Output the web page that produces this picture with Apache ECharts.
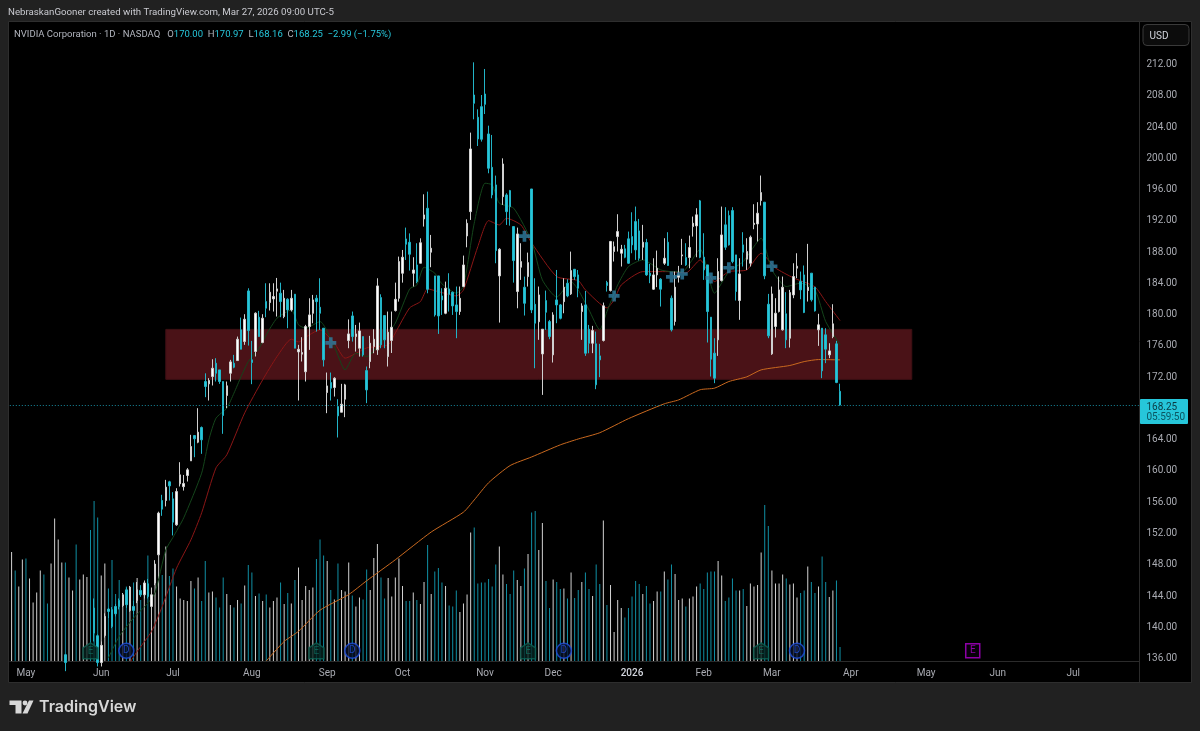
<!DOCTYPE html>
<html>
<head>
<meta charset="utf-8">
<title>NVDA</title>
<style>
  html, body { margin: 0; padding: 0; background: #212121; }
  #j-echarts { width: 1200px; height: 731px; }
</style>
<script src="https://cdn.jsdelivr.net/npm/echarts@6/dist/echarts.min.js"></script>
</head>
<body>
<div id="j-echarts"></div>
<script>
'use strict';
// daily bars, first one is 2025-04-25 (bars under 135.5 are off screen, estimated)
var opens = [
  106.9,110.3,107.7,104.5,113.1,112.9,112.9,111.9,113.0,118.2,
  117.3,121.9,124.7,133.2,134.3,136.3,132.4,134.3,133.1,132.2,
  130,134.1,135.2,142.27,138.73,135.3,138.77,142.14,142.06,142.48,
  143.25,142.61,144.6,141.97,142.48,143.25,144.53,143.97,145.38,142.48,
  145.47,149.09,156.03,156.03,158.42,156.24,152.92,158.16,157.8,159.23,
  161.1,164.34,163.49,165.37,171.25,170.95,171.89,173.59,172.74,171.25,
  169.46,172.31,173.59,173.93,177.86,176.36,182.84,174.02,175.09,179.48,
  176.24,181.48,181.35,181.82,182.8,182.55,179.56,181.78,180.41,182.42,
  175.04,174.75,172.5,178.28,179.98,181.9,180.75,178.07,169.84,171.12,
  170.48,168.05,167.32,168.99,176.49,179.64,177,175.51,177,172.65,
  173.8,175.72,175.3,181.99,179.69,174.44,176.5,180.33,181.9,185.1,
  189.49,189.06,185.1,186.16,186.38,192.05,193.41,187.79,184.76,184.76,
  182.2,179.98,183.1,182.67,181.05,180.2,183.4,189.87,192.98,207.9,
  205.05,206.41,208.03,202.92,198.65,196.4,184.76,194.9,195.12,195.67,
  191.07,182.76,185.87,183.31,184.67,195.88,181.13,178.9,174.78,181.6,
  178.92,174.66,181.69,181.05,181.47,183.82,182.46,185.61,184.89,180.2,
  181.05,177.94,176.15,176.07,174.53,176.5,183.91,182.89,187.88,189.79,
  187.66,188.22,189.5,189.79,191.71,190.52,188.43,189.03,185.11,183.06,
  184.89,184.34,186.38,189.07,181.91,178.93,184.59,187.32,187.11,187.11,
  191.07,191.16,194.36,187.15,186.17,179.48,174.88,176.58,184.17,191.29,
  192.48,193.12,187.45,181.61,188.73,186.9,186.38,191.33,191.41,194.4,
  194.19,181.14,174.79,178.29,180.2,177.86,179.91,176.79,182.33,185.75,
  184.04,184.89,182.89,185.11,183.32,177.86,178.07,177.22,174.66,177,
  176.07,170
];
var closes = [
  111,108.7,109,108.9,111.6,114.5,113.8,113.5,117.1,117.4,
  116.7,123,129.9,135.3,134.8,135.3,135.4,134.4,131.8,132.8,
  131.3,135.4,134.8,139.07,135.3,137.5,141.2,141.84,139.92,141.54,
  142.48,143.97,142.7,144.95,141.97,144.6,143.97,145.47,143.76,143.97,
  147.9,154.42,154.92,157.74,157.9,153.26,157.18,159.31,158.2,159.95,
  162.94,163.92,164.77,163.79,170.61,171.38,172.95,172.31,171.25,166.9,
  170.7,173.76,173.08,176.66,175.38,179.22,177.77,173.68,179.99,177,
  179.35,180.63,182.67,182.12,183.1,181.48,181.9,180.41,181.9,175.51,
  175.38,174.96,178.28,179.77,181.69,181.47,179.98,174.02,170.69,170.4,
  171.67,166.86,168.35,170.82,177.34,177,177.34,177.72,174.66,170.18,
  176.15,176.66,183.48,175.94,176.58,177.55,178.19,181.77,186.59,187.15,
  188.81,187.53,185.52,184.03,189,192.56,183.05,188.3,179.77,179.64,
  181.69,183.18,182.41,180.92,180.2,181.9,186.16,191.49,201,206.84,
  202.28,202.24,206.71,198.53,195.12,188,188.17,199.08,192.98,193.62,
  186.72,190.13,186.59,181.26,186.46,180.41,178.71,182.33,177.94,180.11,
  177,179.77,181.05,179.34,183.31,182.2,185.44,184.67,183.18,180.92,
  174.87,176.15,177.77,170.83,174.02,180.93,183.53,189.16,188.5,190.43,
  188.17,187.15,186.38,188.73,188.09,187.02,189.07,184.89,184.77,184.89,
  185.74,183.06,187.02,186.09,177.86,183.32,184.89,187.45,186.17,188.39,
  191.5,192.57,187.15,185.53,180.2,174.11,171.68,185.32,190,188.43,
  188.73,186.6,182.76,185.02,187.79,187.88,189.71,191.5,192.78,195.42,
  184.77,177.09,182.46,179.99,182.97,183.32,176.58,182.63,184.68,186,
  182.97,180.08,183.32,181.7,180.29,178.5,172.62,175.39,175.17,178.63,
  171.13,168.25
];
var lows = [
  106.5,107,107,104,111,112.5,112.4,111.4,112.5,115.8,
  116,120.3,124,132.4,132,134.2,132,132.8,130.6,131.5,
  130,133,133.5,138,134.8,134.8,138.5,141,139.7,141.2,
  142.1,142.4,142.3,141.8,141.5,142.9,143.7,143.5,143.5,142,
  145.2,149,154.07,155.27,156.03,151.56,152.8,157.82,157.3,158.46,
  161.1,161.57,163.36,162,169.25,168.82,170.74,171.25,170.95,164.56,
  167.84,171.25,172.95,173.93,175.38,175.94,175.85,170.91,174.45,177,
  176.15,179.48,180.33,180.2,179.56,179.48,179.35,178.07,180.2,175.51,
  168.82,173.81,171.25,175.3,178.7,177.64,177.85,173.17,167.2,168.82,
  169.33,164.09,167.32,166.69,175.51,176.36,175.08,174.44,174.44,168.48,
  172.95,174.87,174.66,175.51,175.51,173.17,174.9,180.2,181.47,183.9,
  186.8,185.44,183.4,183.82,186.38,191.07,182.54,185.87,179.56,177.34,
  179.77,179.86,180.2,179.77,176.79,179.77,183.31,188.42,191.92,204.79,
  201.38,201.94,205.47,197.89,194.69,186.38,178.79,193.84,191.28,191.19,
  183.9,180.62,184.25,179.69,183.4,180,172.95,176.58,169.54,177.85,
  176.66,173.68,178.71,179.2,179.98,182.03,182.33,184.25,182.03,176.58,
  174.53,174.87,174.88,170.27,171.81,176.37,182.76,182.76,186.6,187.88,
  185.96,187.02,186.3,187.66,186.81,186.73,186.81,184.77,183.83,182.97,
  183.32,180.84,186.17,186.04,177.65,178.41,183.91,186.17,186.04,185.74,
  189.79,187.15,187.02,184.25,176.24,171.89,171.04,174.53,184.04,188.09,
  188.64,186.38,181.61,179.14,185.96,185.53,185.96,190.73,189.16,193.76,
  184.34,176.79,174.66,176.88,180.08,177.77,175.52,175.6,181.91,184.47,
  181.78,180,181.48,181.48,180.2,175.81,171.68,173.6,174.24,176.79,
  171.04,168.16
];
var highs = [
  111.9,110.4,110.2,109,114.9,115.4,114.7,114.7,117.6,118.7,
  118.2,123.1,131.2,135.4,135.4,136.4,135.45,135.4,134,134.2,
  132.7,135.45,135.4,143.5,138.9,138,141.6,142.3,142.4,142.8,
  143.5,144.2,144.9,145.1,143.2,145.6,145.2,145.8,146,144.9,
  148.4,154.6,156.76,158.67,158.55,157.1,157.6,160.93,159.3,160.17,
  164.43,164.34,167.84,165.5,172.3,171.68,174.1,174.23,172.74,171.25,
  171.25,174.02,174.66,177,179.43,179.86,183.18,176.45,180.1,180.29,
  179.86,183.82,183.82,183.82,184.5,183.9,182.97,181.9,182.97,182.42,
  175.94,176.92,178.5,181.9,182.33,182.33,184.46,178.07,172.4,172.4,
  171.8,168.99,170.95,170.95,179.2,180.2,178.49,178.79,177,173.17,
  177.09,177.94,184.46,182.41,179.69,180.2,180.2,183.9,187.23,188.08,
  190.94,190.2,187.15,188.94,189.57,195.2,195.54,190,184.76,184.76,
  183.18,184.03,185.1,182.76,183.4,183.4,187.36,192,203.09,212.08,
  206.07,207.9,211.23,203.98,202.79,197.59,188.3,199.8,195.33,195.76,
  191.07,190.94,188.94,184.67,187.74,195.88,184.46,183.4,177.94,182.88,
  179.13,180.11,185.52,181.17,184.46,184.33,187.87,185.61,185.52,181.26,
  182.84,178.49,178.37,177.64,176.07,181.35,184.13,189.24,189.16,192.65,
  188.73,188.73,190.43,192.9,193.63,192.05,191.29,189.5,186.3,187.02,
  188,184.47,189.58,190.35,182.25,185.32,186.04,189.5,188.94,189.92,
  192.35,193.42,194.48,190.22,186.17,179.48,176.79,187.02,193.63,193.55,
  193.12,193.55,187.45,187.02,190.35,189.58,189.92,193.93,194.19,197.6,
  194.19,182.46,183.4,181.91,184.68,184.68,182.68,182.97,186.38,187.66,
  185.32,186.09,188.86,185.11,183.32,179.91,178.07,178.07,176.15,181.14,
  176.45,170.97
];
// volume in millions of shares
var volumes = [
  218,181,149,203,205,165,117,137,181,173,
  115,195,285,243,197,197,167,141,233,163,
  173,168,262,320,287,171,195,145,202,134,
  162,129,149,147,157,166,122,158,211,145,
  194,212,172,229,170,185,149,125,122,120,
  160,145,167,120,200,137,139,127,107,167,
  134,112,107,122,115,151,192,177,130,135,
  120,133,107,120,127,157,114,136,115,162,
  187,122,150,142,147,204,243,211,200,142,
  123,195,142,139,197,131,109,127,123,183,
  142,206,234,167,125,166,129,167,205,150,
  120,120,137,122,114,158,232,134,179,186,
  157,150,111,109,141,98,115,133,257,267,
  155,157,157,164,149,193,229,173,154,134,
  181,162,150,185,214,297,300,222,276,160,
  106,163,158,144,145,125,177,126,142,158,
  177,144,130,193,154,281,112,152,58,122,
  106,87,106,129,160,154,134,150,115,120,
  139,139,179,163,193,174,122,125,109,125,
  129,149,155,144,177,179,179,200,171,120,
  127,165,141,141,144,110,155,149,152,217,
  312,270,181,155,155,173,165,153,155,127,
  136,141,189,158,136,149,209,158,128,141,
  161,28
];
// moving averages, [bar index, value] at the turning points of each line
var ma200Points = [[71,135.5],[76,138],[80,139.3],[86,142],[94,144],[99,145.76],[107,148.45],[117,152],[126,154.54],[129,156.1],[133,158.3],[139,160.5],[145,161.6],[153,163.15],[158,163.9],[164,164.7],[172,166.5],[182,168.4],[186,168.9],[192,170.2],[196,170.4],[200,171.25],[205,171.85],[209,172.74],[217,173.3],[221,173.8],[225,174.06],[231,174.02]];
var ma21Points = [[33,135.3],[35,136.72],[39,139.27],[42,142.47],[46,147.38],[50,151],[53,154.46],[57,160.21],[60,161.87],[65,167.24],[70,171.46],[74,174.44],[78,176.67],[80,176.32],[83,177.22],[86,177.86],[90,176.19],[93,174.24],[99,175.55],[105,175.94],[107,177.47],[111,180.67],[114,181.48],[116,183.1],[119,182.75],[124,182.2],[126,182.97],[130,188.51],[133,191.83],[136,191.28],[138,192.14],[142,191.28],[145,188.98],[152,184.67],[158,184.16],[160,182.97],[166,180.67],[168,181.69],[170,183.6],[176,185.31],[183,185.31],[188,185.14],[192,186.81],[196,184.03],[200,185.31],[205,185.53],[209,187.66],[213,185.78],[218,184.51],[224,183.36],[227,181.48],[231,179.05]];
var ma9Points = [[27,135.9],[30,138.64],[34,140.99],[38,142.9],[40,144.23],[43,149.72],[45,151.32],[48,153.82],[53,159.53],[55,163.79],[57,166.57],[60,167.84],[62,169.76],[64,171.89],[66,173.8],[69,175.52],[71,177.22],[74,179.35],[78,180.41],[80,178.5],[82,178.08],[86,178.92],[90,175.72],[93,172.74],[96,174.88],[99,174.44],[104,176.83],[107,178.72],[111,183.1],[113,183.61],[115,185.87],[118,185.11],[120,183.74],[124,182.55],[126,183.4],[129,191.5],[132,196.62],[134,196.4],[136,194.06],[140,193.42],[145,189.15],[148,184.25],[152,182.04],[156,184.03],[158,182.97],[161,180.41],[164,177.86],[166,180.2],[169,183.6],[172,185.95],[176,186.81],[181,185.53],[184,185.31],[187,185.31],[192,188.2],[196,182.55],[200,185.31],[204,186.59],[209,189.58],[212,185.53],[216,183.4],[220,183.83],[224,182.97],[227,178.92],[231,175.94]];
// blue crosses
var crossPoints = [[89,176.2],[143,189.84],[168,182.2],[184,184.63],[187,185],[195,184.5],[200,185.8],[212,186]];
// earnings and dividend flags
var earningsBars = [22,85,144,209];
var dividendBars = [32,95,154,219];
var nextEarningsBar = 268;
var flagPrice = 136.8;
// support zone
var zoneTop = 177.92;
var zoneBottom = 171.53;
var zoneFromBar = 43;
var zoneToBar = 251;
var lastPrice = 168.25;
var priceTicks = [136,140,144,148,152,156,160,164,168,172,176,180,184,188,192,196,200,204,208,212];
var monthBars = [4,25,45,67,88,109,132,151,173,193,212,234,255,275,296];
var monthLabels = ['May','Jun','Jul','Aug','Sep','Oct','Nov','Dec','2026','Feb','Mar','Apr','May','Jun','Jul'];
var marketHolidays = ['2025-05-26','2025-06-19','2025-07-04','2025-09-01','2025-11-27','2025-12-25','2026-01-01','2026-01-19','2026-02-16','2026-04-03','2026-05-25','2026-06-19','2026-07-03','2026-09-07'];
var barCount = 315;

var upColor = '#ffffff';
var downColor = '#26c6da';

// trading days, the axis runs on past the last bar
var categories = [];
var day = new Date(Date.UTC(2025, 3, 25));
while (categories.length < barCount) {
  var iso = day.toISOString().slice(0, 10);
  if (day.getUTCDay() !== 0 && day.getUTCDay() !== 6 && marketHolidays.indexOf(iso) < 0) {
    categories.push(iso);
  }
  day.setUTCDate(day.getUTCDate() + 1);
}

var candleData = opens.map(function (o, i) {
  return [o, closes[i], lows[i], highs[i]];
});
var volumeData = volumes.map(function (v, i) {
  return {
    value: v,
    itemStyle: { color: closes[i] >= opens[i] ? '#d2d2d2' : '#108fa4' }
  };
});
function flagData(bars) {
  return bars.map(function (b) { return [b, flagPrice]; });
}

var myChart = echarts.init(document.getElementById('j-echarts'));
var uiFont = 'Roboto, "Liberation Sans", sans-serif';

var option = {
  backgroundColor: '#212121',
  animation: false,
  grid: { left: 9.8, top: 22, width: 1129.7, height: 639 },
  xAxis: {
    type: 'category',
    data: categories,
    boundaryGap: true,
    axisLine: { lineStyle: { color: '#2b2b2b' } },
    axisTick: { show: false },
    splitLine: { show: false },
    axisLabel: {
      color: '#a9abb2',
      fontFamily: uiFont,
      fontSize: 10,
      margin: 7,
      interval: function (index) {
        return monthBars.indexOf(index) >= 0;
      },
      formatter: function (value, index) {
        var label = monthLabels[monthBars.indexOf(index)];
        return label === '2026' ? '{y|2026}' : label;
      },
      rich: { y: { color: '#d1d4dc', fontFamily: uiFont, fontSize: 10, fontWeight: 500 } }
    }
  },
  yAxis: [
    {
      type: 'value',
      position: 'right',
      min: 135.5,
      max: 217.24,
      axisLine: { show: true, lineStyle: { color: '#2b2b2b' } },
      axisTick: { show: false },
      splitLine: { show: false },
      axisLabel: {
        customValues: priceTicks,
        color: '#a9abb2',
        fontFamily: uiFont,
        fontSize: 10,
        margin: 7,
        lineHeight: 3,
        verticalAlign: 'top',
        formatter: function (v) { return v.toFixed(2); }
      }
    },
    {
      type: 'value',
      min: 0,
      max: 1278,
      show: false
    }
  ],
  series: [
    {
      name: 'Volume',
      type: 'bar',
      yAxisIndex: 1,
      barWidth: 1,
      z: 2,
      data: volumeData
    },
    {
      name: 'MA200',
      type: 'line',
      data: ma200Points,
      showSymbol: false,
      smooth: 0.2,
      z: 3,
      lineStyle: { color: '#c9691f', width: 1 },
      markArea: {
        silent: true,
        z: 1,
        itemStyle: { color: '#4a1217', borderColor: '#3f1014', borderWidth: 1 },
        data: [[
          { xAxis: categories[zoneFromBar], yAxis: zoneTop },
          { xAxis: categories[zoneToBar], yAxis: zoneBottom }
        ]]
      }
    },
    {
      name: 'MA21',
      type: 'line',
      data: ma21Points,
      showSymbol: false,
      smooth: 0.2,
      z: 3,
      lineStyle: { color: '#8a1616', width: 1 }
    },
    {
      name: 'MA9',
      type: 'line',
      data: ma9Points,
      showSymbol: false,
      smooth: 0.2,
      z: 3,
      lineStyle: { color: '#14451b', width: 1 }
    },
    {
      name: 'NVDA',
      type: 'candlestick',
      data: candleData,
      barWidth: 2,
      z: 4,
      itemStyle: {
        color: upColor,
        color0: downColor,
        borderColor: '#d0d0d0',
        borderColor0: '#22b4c7',
        borderWidth: 1
      },
      markLine: {
        silent: true,
        symbol: 'none',
        label: { show: false },
        lineStyle: { color: '#178ba0', type: [1, 2], width: 1 },
        data: [{ yAxis: lastPrice }]
      }
    },
    {
      name: 'Cross',
      type: 'scatter',
      data: crossPoints,
      symbol: 'path://M4 0h4v4h4v4h-4v4h-4v-4h-4v-4h4z',
      symbolSize: 11,
      z: 5,
      itemStyle: { color: '#2f7ea3' }
    },
    {
      name: 'Earnings',
      type: 'scatter',
      data: flagData(earningsBars),
      symbol: 'path://M0 5L7 0L14 5V16H0Z',
      symbolSize: [15, 16],
      z: 5,
      itemStyle: { color: '#06231f', borderColor: '#0d6153', borderWidth: 1.5 },
      label: { show: true, position: 'inside', formatter: 'E', color: '#0f6e5e', fontFamily: uiFont, fontSize: 10, offset: [0, 1] }
    },
    {
      name: 'Dividends',
      type: 'scatter',
      data: flagData(dividendBars),
      symbol: 'circle',
      symbolSize: 15,
      z: 5,
      itemStyle: { color: '#060f28', borderColor: '#2050e0', borderWidth: 1.5 },
      label: { show: true, position: 'inside', formatter: 'D', color: '#2350d8', fontFamily: uiFont, fontSize: 10 }
    },
    {
      name: 'Next earnings',
      type: 'scatter',
      data: flagData([nextEarningsBar]),
      symbol: 'rect',
      symbolSize: 14,
      z: 5,
      itemStyle: { color: '#0a000c', borderColor: '#b000d0', borderWidth: 1.5 },
      label: { show: true, position: 'inside', formatter: 'E', color: '#b000d0', fontFamily: uiFont, fontSize: 10 }
    }
  ],
  graphic: {
    elements: [
      {
        type: 'rect', z: -1, silent: true,
        shape: { x: 8.5, y: 21.5, width: 1183, height: 661 },
        style: { fill: '#000', stroke: '#2e2e2e', lineWidth: 1 }
      },
      {
        type: 'line', z: -1, silent: true,
        shape: { x1: 1139.5, y1: 661, x2: 1139.5, y2: 682 },
        style: { stroke: '#2b2b2b', lineWidth: 1 }
      },
      {
        type: 'text', z: 10, silent: true, x: 8, y: 7.5,
        style: { text: 'NebraskanGooner created with TradingView.com, Mar 27, 2026 09:00 UTC-5', fill: '#c9cad0', font: '9.7px ' + uiFont }
      },
      {
        type: 'text', z: 10, silent: true, x: 14, y: 30,
        style: {
          text: '{n|NVIDIA Corporation · 1D · NASDAQ}   {n|O}{v|170.00}  {n|H}{v|170.97}  {n|L}{v|168.16}  {n|C}{v|168.25}  {v|−2.99 (−1.75%)}',
          font: '9.5px ' + uiFont,
          rich: {
            n: { fill: '#b2b5be', font: '9.5px ' + uiFont },
            v: { fill: '#26c6da', font: '9.5px ' + uiFont }
          }
        }
      },
      {
        type: 'rect', z: 10, silent: true,
        shape: { x: 1143, y: 24.5, width: 46, height: 21, r: 4 },
        style: { fill: '#0c0c0c', stroke: '#3a3a3a', lineWidth: 1 }
      },
      {
        type: 'text', z: 11, silent: true, x: 1149.5, y: 31,
        style: { text: 'USD', fill: '#d1d4dc', font: '10px ' + uiFont }
      },
      {
        type: 'rect', z: 10, silent: true,
        shape: { x: 1140, y: 399, width: 48, height: 25, r: 1 },
        style: { fill: '#26c6da' }
      },
      {
        type: 'text', z: 11, silent: true, x: 1146.5, y: 402,
        style: { text: '168.25', fill: '#0b3a42', font: '10px ' + uiFont }
      },
      {
        type: 'text', z: 11, silent: true, x: 1146.5, y: 412.5,
        style: { text: '05:59:50', fill: '#0b5561', font: '10px ' + uiFont }
      },
      {
        type: 'polygon', z: 10, silent: true,
        shape: { points: [[9.5,700.5],[21.5,700.5],[21.5,713.5],[15.5,713.5],[15.5,705],[9.5,705]] },
        style: { fill: '#d8d8d8' }
      },
      {
        type: 'polygon', z: 10, silent: true,
        shape: { points: [[29,700.5],[33.5,700.5],[27.5,713.5],[22.5,713.5]] },
        style: { fill: '#d8d8d8' }
      },
      {
        type: 'circle', z: 10, silent: true,
        shape: { cx: 25, cy: 703, r: 2.4 },
        style: { fill: '#d8d8d8' }
      },
      {
        type: 'text', z: 10, silent: true, x: 39, y: 699,
        style: { text: 'TradingView', fill: '#d8d8d8', font: '600 16px Inter, ' + uiFont }
      }
    ]
  }
};

myChart.setOption(option);
</script>
</body>
</html>
